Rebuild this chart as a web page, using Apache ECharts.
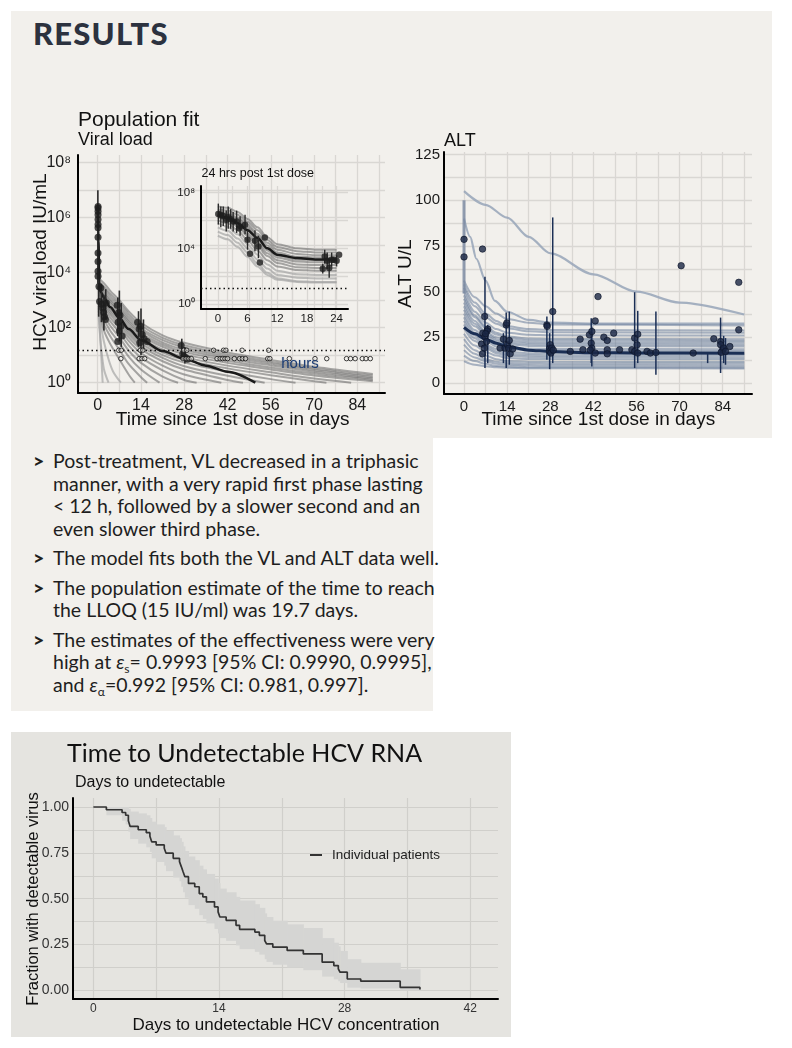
<!DOCTYPE html>
<html><head><meta charset="utf-8">
<script src="https://cdn.jsdelivr.net/npm/echarts@6/dist/echarts.min.js"></script>
<style>
body{margin:0;background:#fff;width:792px;height:1048px;position:relative;overflow:hidden}
.panel{position:absolute;background:#f2f0ec}
#results{position:absolute;left:33px;top:14px;font-family:Lato;font-weight:900;font-size:31px;letter-spacing:1.2px;color:#2c323f;white-space:nowrap}
#bullets{position:absolute;left:33px;top:450px;font-family:Lato;font-size:19.5px;color:#1e1e1e;line-height:22.5px}
.b{position:relative;padding-left:20px;margin-bottom:7px;white-space:nowrap}
.b:before{content:'>';position:absolute;left:0;top:0;font-weight:900}
sub{font-size:0.62em;line-height:0;vertical-align:-0.3em}
#chart{position:absolute;left:0;top:0;width:792px;height:1048px}
</style></head>
<body>
<div class="panel" style="left:11px;top:11px;width:761px;height:427px"></div>
<div class="panel" style="left:11px;top:438px;width:422px;height:273px"></div>
<div class="panel" style="left:11px;top:732px;width:500px;height:305px;background:#e5e4e0"></div>
<div id="results">RESULTS</div>
<div id="bullets">
<div class="b">Post-treatment, VL decreased in a triphasic<br>manner, with a very rapid first phase lasting<br>&lt; 12 h, followed by a slower second and an<br>even slower third phase.</div>
<div class="b">The model fits both the VL and ALT data well.</div>
<div class="b">The population estimate of the time to reach<br>the LLOQ (15 IU/ml) was 19.7 days.</div>
<div class="b">The estimates of the effectiveness were very<br>high at <i>ε</i><sub>s</sub>= 0.9993 [95% CI: 0.9990, 0.9995],<br>and <i>ε</i><sub>α</sub>=0.992 [95% CI: 0.981, 0.997].</div>
</div>
<div id="chart"></div>
<script>
// ---------- Viral load (log10 IU/mL) vs days ----------
const vlDayGrid = [0,7,14,21,28,35,42,49,56,63,70,77,84,91];
const vlDayLabels = [0,14,28,42,56,70,84];
const vlPowGrid = [0,1,2,3,4,5,6,7,8];
const vlPowLabels = [0,2,4,6,8];
const vlLLOQ = 1.18;        // log10(15 IU/mL)
const vlBelowLevel = 0.875; // log10(7.5 IU/mL)
const vlCurves = [
 [[0.3,3.8],[2,3.62],[4,3.35],[7,3.0],[10,2.6],[14,2.18],[21,1.72],[28,1.45],[42,1.1],[56,0.83],[70,0.58],[89,0.32]],
 [[0.3,3.7],[2,3.5],[4,3.24],[7,2.9],[10,2.5],[14,2.08],[21,1.63],[28,1.36],[42,1.02],[56,0.76],[70,0.52],[89,0.26]],
 [[0.3,3.65],[2,3.42],[4,3.15],[7,2.8],[10,2.4],[14,1.98],[21,1.55],[28,1.28],[42,0.95],[56,0.7],[70,0.46],[89,0.2]],
 [[0.3,3.55],[2,3.33],[4,3.05],[7,2.7],[10,2.3],[14,1.9],[21,1.46],[28,1.2],[42,0.88],[56,0.63],[70,0.4],[89,0.15]],
 [[0.3,3.5],[2,3.25],[4,2.97],[7,2.62],[10,2.22],[14,1.8],[21,1.38],[28,1.12],[42,0.8],[56,0.55],[70,0.33],[89,0.1]],
 [[0.3,3.45],[2,3.18],[4,2.9],[7,2.55],[10,2.14],[14,1.72],[21,1.3],[28,1.03],[42,0.72],[56,0.48],[70,0.26],[89,0.05]],
 [[0.3,3.4],[2,3.1],[4,2.8],[7,2.45],[10,2.04],[14,1.62],[21,1.2],[28,0.93],[42,0.62],[56,0.38],[70,0.15],[82,0]],
 [[0.3,3.35],[2,3.03],[4,2.72],[7,2.38],[10,1.95],[14,1.52],[21,1.1],[28,0.83],[42,0.52],[56,0.27],[70,0.05],[74,0]],
 [[0.3,3.3],[2,2.97],[4,2.65],[7,2.3],[10,1.86],[14,1.43],[21,1.0],[28,0.73],[42,0.4],[56,0.13],[64,0]],
 [[0.3,3.25],[2,2.9],[4,2.57],[7,2.2],[10,1.76],[14,1.33],[21,0.9],[28,0.6],[42,0.25],[54,0]],
 [[0.3,3.2],[2,2.82],[4,2.48],[7,2.1],[10,1.65],[14,1.22],[21,0.78],[28,0.48],[42,0.1],[47,0]],
 [[0.3,3.1],[2,2.72],[4,2.37],[7,1.98],[10,1.52],[14,1.08],[21,0.62],[28,0.3],[40,0]],
 [[0.3,3.0],[2,2.6],[4,2.24],[7,1.83],[10,1.36],[14,0.92],[21,0.45],[28,0.1],[32,0]],
 [[0.3,2.9],[2,2.45],[4,2.08],[7,1.65],[10,1.17],[14,0.72],[21,0.22],[26,0]],
 [[0.3,2.8],[2,2.3],[4,1.9],[7,1.45],[10,0.95],[14,0.48],[20,0]],
 [[0.3,2.7],[2,2.12],[4,1.7],[7,1.2],[10,0.68],[14,0.2],[16,0]],
 [[0.3,2.6],[2,1.9],[4,1.42],[7,0.85],[10,0.3],[12,0]]
];
const vlLightCurves = [
 [[0.3,2.5],[1,2.1],[2,1.5],[3.5,0.85],[5,0.4],[7.5,0]],
 [[0.3,2.4],[0.7,1.8],[1,1.4],[2,0.5],[3.5,0]],
 [[0.3,2.8],[0.6,2.1],[1,1.3],[1.6,0]]
];
const vlMean = [[0,6.4],[0.25,5.2],[0.5,3.5],[1,3.3],[2,3.1],[4,2.75],[7,2.35],[10,1.95],[14,1.55],[21,1.15],[28,0.87],[35,0.62],[42,0.4],[51,0.0]];
const vlPoints = [
 [0.1,6.41],[0.1,6.35],[0.1,6.23],[0.1,6.11],[0.1,5.93],[0.1,5.75],[0.1,5.63],[0.1,5.29],[0.1,4.72],[0.1,4.41],[0.1,4.05],[0.1,3.87],
 [0.4,3.5],[0.6,2.95],[1.0,3.44],[1.3,2.85],[1.6,2.72],[1.9,2.55],[2.2,2.4],[2.5,2.3],[2.8,2.9],
 [6.3,2.82],[6.8,2.55],[7.2,2.45],[6.6,2.2],[7.5,2.05],[7.0,1.88],[7.9,1.7],[6.5,1.5],
 [12.9,2.2],[13.8,2.05],[13.4,1.95],[14.4,1.75],[15.0,1.6],[13.6,1.45],[16.0,1.5],
 [27.0,1.35],[27.5,1.05],[28.0,0.95],[28.6,0.9],[29.1,0.85]
];
const vlErr = [
 [0.05,3.6,7.0],[0.3,2.4,3.9],[1.2,2.2,3.6],[2.0,1.9,3.2],[2.6,2.3,3.4],
 [6.5,1.7,3.1],[7.0,1.5,3.35],[7.6,1.3,2.9],
 [13.2,1.3,2.6],[14.0,1.0,2.7],[14.8,1.2,2.3],
 [27.2,0.9,1.6],[28.2,0.7,1.3]
];
const vlAtLLOQDays = [6.8,7.6,13.8,14.6,27.8,28.8,37.5,40.7,41.5,46.7,55.3];
const vlBelowDays = [7.5,13.4,14.3,15.2,27.6,28.6,29.5,30.3,34.8,38.6,39.6,40.4,41.2,42.0,44.2,45.9,46.8,47.8,55.0,55.7,62.0,70.3,74.1,80.5,81.8,83.3,85.6,86.8,88.2];

// ---------- Inset: first 24 hours ----------
const inHourGrid = [0,3,6,9,12,15,18,21,24];
const inHourLabels = [0,6,12,18,24];
const inPowGrid = [0,2,4,6,8];
const inPowLabels = [0,4,8];
const inHours = [0,2,4,6,8,10,12,16,20,24];
const inCurves = [
 [7.0,6.9,6.6,6.1,5.5,4.8,4.3,4.0,3.9,3.9],
 [6.8,6.7,6.4,5.9,5.3,4.6,4.1,3.8,3.7,3.7],
 [6.7,6.55,6.2,5.7,5.05,4.4,3.9,3.6,3.5,3.5],
 [6.6,6.45,6.1,5.55,4.9,4.2,3.7,3.4,3.35,3.35],
 [6.5,6.35,5.95,5.4,4.7,4.0,3.5,3.2,3.15,3.15],
 [6.4,6.25,5.85,5.25,4.55,3.85,3.35,3.05,3.0,3.0],
 [6.3,6.1,5.7,5.05,4.35,3.65,3.15,2.85,2.8,2.8],
 [6.2,6.0,5.55,4.9,4.15,3.45,2.95,2.65,2.6,2.6],
 [6.0,5.8,5.3,4.6,3.85,3.15,2.7,2.45,2.4,2.4]
];
const inLightCurves = [
 [5.8,5.55,5.0,4.3,3.55,2.85,2.4,2.15,2.1,2.1],
 [5.5,5.25,4.7,4.0,3.2,2.55,2.1,1.9,1.85,1.85],
 [5.2,4.95,4.4,3.7,2.9,2.25,1.85,1.65,1.6,1.6],
 [4.9,4.65,4.1,3.4,2.7,2.1,1.75,1.6,1.55,1.55]
];
const inMean = [6.4,6.2,5.8,5.3,4.75,4.0,3.55,3.3,3.2,3.2];
const inPoints = [[0.1,6.46],[0.6,6.39],[1.1,6.32],[1.7,6.04],[2.1,6.23],[2.6,6.08],[3.1,5.92],[3.8,5.92],[4.3,5.44],[4.5,5.56],[5.5,5.68],[6.0,4.61],[6.5,3.61],[7.5,4.54],[8.2,4.13],[8.5,2.99],[9.5,4.77],[21.2,2.54],[21.6,3.42],[22.1,3.11],[22.5,2.59],[23.0,3.18],[23.4,3.18],[24.0,3.11],[24.5,3.54]];
const inErr = [[0.1,5.7,7.2],[0.6,5.5,7.0],[1.1,5.6,7.0],[1.7,5.2,6.7],[2.1,5.4,7.0],[2.6,5.4,6.8],[3.1,5.2,6.6],[3.8,5.1,6.7],[4.5,4.9,6.3],[5.5,5.0,6.4],[6.0,3.9,5.3],[7.5,3.8,5.3],[8.2,3.3,4.9],[21.2,2.2,2.9],[21.6,2.9,3.9],[22.1,2.5,3.7],[22.5,1.9,3.2],[23.0,2.7,3.7],[24.0,2.7,3.5]];

// ---------- ALT (U/L) vs days ----------
const altDayGrid = [0,7,14,21,28,35,42,49,56,63,70,77,84,91];
const altDayLabels = [0,14,28,42,56,70,84];
const altValGrid = [0,12.5,25,37.5,50,62.5,75,87.5,100,112.5,125];
const altValLabels = [0,25,50,75,100,125];
const altOutlierCurves = [
 [[0,105],[7,97.5],[14,90.5],[21,80],[28,71],[42,59.5],[56,50],[70,44],[91,37.5]],
 [[0,90],[2,80],[4,68],[7,56],[10,45],[14,39],[21,34.5],[28,33],[42,32.5],[91,32.5]]
];
const altCurveDays = [0,3.5,7,10.5,14,21,28,91];
const altCurves = [
 [56,47,42,38,35,33,32,31.5],
 [54,44,38,34,31,29.5,29,28.8],
 [52,42,36,32.5,30,28.3,27.8,27.5],
 [50,39,33,29.5,27.5,26.4,26.1,26],
 [48,37,31,27.5,25.5,24.4,24.1,24],
 [46,36,30,26.5,24.5,23.4,23.1,23],
 [44,34,28,25,23.3,22.3,22.1,22],
 [42,32.5,27,24,22.2,21.3,21.1,21],
 [40,31,26,23,21.2,20.3,20.1,20],
 [38,29,24,21.2,19.6,18.8,18.6,18.5],
 [36,27.5,23,20,18.6,17.8,17.6,17.5],
 [34,26,21,18.5,17.1,16.3,16.1,16],
 [32,24.5,20,17.3,16,15.3,15.1,15],
 [30,23,19,16.3,15,14.3,14.1,14],
 [27,20.5,17,15,13.7,13.2,13.1,13],
 [24,18,15,13,12,11.7,11.6,11.5],
 [21,16,13,11.6,11,10.7,10.6,10.5],
 [18,14,12,10.5,10,9.7,9.6,9.5],
 [15,12,10.5,9.3,9,8.7,8.6,8.5],
 [12,10,9.2,8.6,8.3,8.1,8.05,8]
];
const altMean = [[0,30.5],[3.5,27],[7,24],[10.5,21.8],[14,20],[21,18],[28,17.2],[42,16.6],[56,16.4],[91,16.3]];
const altPoints = [
 [0,78.6],[0,69],[6,73.3],[6.7,36.4],[6.1,27.3],[6.8,25.5],[7.7,29.5],[7.5,28.5],[5.7,21.3],[6.6,19.1],[6,16],[7.3,22.7],[7,27],
 [11.7,19.1],[12.8,24],[13.7,31.8],[13.9,32.8],[13.3,19.1],[14.1,21],[14.7,23.3],[14.5,19],[15,16],[15.8,18.6],
 [26.9,31.8],[27,31],[27.8,19.1],[27.8,17.3],[28,21],[28.8,39.1],[28.5,19.1],[28.2,16.4],[29,18],
 [34.5,17.3],[37.7,24],[38.6,18.2],[40.7,26.4],[41.3,21.8],[41.5,28.2],[41.5,19.1],[41,18],[42.6,34],[43.5,47.3],[42.6,16.4],[45.4,25.1],[46.5,23.3],[46.5,18.2],[46.5,16],[48.6,27.3],[50.5,18.2],
 [54.5,18.2],[55.4,24.6],[56.2,20.9],[56.4,26.7],[55.4,17.3],[56.4,16.4],[59.4,17.3],[60.5,16.4],[62.3,16.7],[70.5,64.2],[74.4,16.4],
 [81.1,24.2],[83.3,22.7],[83.3,21],[84,18.2],[83.5,16.8],[84.3,19.1],[84.9,17.3],[86.3,20],[89.2,55.1],[89.2,29.1]
];
const altErrDay0 = [[0,49,100]];
const altErr = [[6.8,8.2,58.2],[7.7,10.9,31.8],[12.8,10.9,27.3],[13.7,8.2,38.6],[14.7,10,39.1],[26.9,12.7,36.4],[27.8,7.6,27.3],[28.8,10.9,90.6],[41.3,10.9,35.5],[41.5,9.1,30.9],[55.4,8.2,49.7],[56.4,10.9,39.5],[62.3,4.5,39.1],[79.1,10.9,16],[83.3,5.5,35.8],[84.3,10.9,25.8],[84.9,10,24.6]];

// ---------- Kaplan-Meier: time to undetectable ----------
const kmDayGrid = [0,7,14,21,28,35,42];
const kmDayLabels = [0,14,28,42];
const kmFracGrid = [0,0.125,0.25,0.375,0.5,0.625,0.75,0.875,1];
const kmFracLabels = [0,0.25,0.5,0.75,1];
const kmDays  = [0,1.45,3.2,3.6,3.9,4.1,5.0,5.9,6.3,6.5,7.0,7.9,8.1,8.9,9.6,9.8,10.0,10.2,10.6,11.3,11.8,12.2,12.6,13.5,13.9,14.1,14.8,15.9,16.3,18.0,18.5,19.1,19.3,20.0,21.6,23.4,25.5,26.8,27.3,27.5,28.3,29.8,34.2,36.4];
const kmSurv  = [1.0,0.985,0.97,0.955,0.925,0.894,0.876,0.86,0.84,0.81,0.793,0.775,0.748,0.72,0.702,0.675,0.647,0.62,0.583,0.565,0.528,0.51,0.483,0.455,0.428,0.40,0.382,0.355,0.333,0.318,0.30,0.272,0.254,0.236,0.218,0.199,0.154,0.135,0.117,0.099,0.062,0.05,0.016,0.005];
const kmUpper = [1.0,1.0,1.0,1.0,0.99,0.975,0.965,0.955,0.94,0.92,0.905,0.89,0.87,0.845,0.83,0.81,0.785,0.76,0.73,0.71,0.68,0.66,0.635,0.61,0.585,0.555,0.535,0.51,0.49,0.47,0.45,0.42,0.4,0.38,0.36,0.34,0.285,0.26,0.24,0.215,0.17,0.15,0.115,0.11];
const kmLower = [1.0,0.955,0.925,0.905,0.865,0.825,0.8,0.78,0.755,0.72,0.7,0.68,0.65,0.615,0.595,0.565,0.535,0.505,0.465,0.445,0.41,0.39,0.365,0.335,0.31,0.285,0.27,0.245,0.225,0.21,0.195,0.17,0.155,0.14,0.125,0.11,0.075,0.06,0.05,0.04,0.015,0.01,0.0,0.0];

// ================= build =================
const FONT = 'Liberation Sans';
const GRID_C = '#d9d7d3';
const sup = ['⁰','¹','²','³','⁴','⁵','⁶','⁷','⁸','⁹'];
const powLabel = v => '10' + sup[Math.round(v)];

function axis(gridIndex, min, max, gridVals, labelVals, o) {
  o = o || {};
  return {
    type: 'value', gridIndex, min, max,
    axisLine: {show: true, onZero: false, lineStyle: {color: '#000', width: o.axisW || 2}},
    axisTick: {show: false, customValues: gridVals},
    axisLabel: {customValues: labelVals, fontFamily: FONT, fontSize: o.fs || 16, color: o.color || '#1a1a1a',
      margin: o.margin == null ? 6 : o.margin, formatter: o.fmt, hideOverlap: false},
    splitLine: {show: true, lineStyle: {color: o.gridColor || GRID_C, width: o.gridW || 1.3}}
  };
}

function errSeries(xi, yi, data, color, width, z) {
  return {
    type: 'custom', xAxisIndex: xi, yAxisIndex: yi, data, silent: true, z: z || 5,
    encode: {x: 0, y: [1, 2]},
    renderItem(params, api) {
      const a = api.coord([api.value(0), api.value(1)]);
      const b = api.coord([api.value(0), api.value(2)]);
      return {type: 'line', shape: {x1: a[0], y1: a[1], x2: b[0], y2: b[1]}, style: {stroke: color, lineWidth: width}};
    }
  };
}
function lineS(xi, yi, data, color, width, z, mono) {
  const s = {type: 'line', xAxisIndex: xi, yAxisIndex: yi, data, showSymbol: false, symbol: 'none',
    smooth: 0.3, silent: true, z: z || 2, lineStyle: {color, width}};
  if (mono) s.smoothMonotone = 'x';
  return s;
}

const series = [];
// Viral load main
vlCurves.forEach(c => series.push(lineS(0, 0, c, 'rgba(100,100,100,0.55)', 2, 2)));
vlLightCurves.forEach(c => series.push(lineS(0, 0, c, 'rgba(165,165,165,0.7)', 2, 2)));
series.push(lineS(0, 0, vlMean, '#1a1a1a', 2.5, 4, true));
series.push(errSeries(0, 0, vlErr, '#2a2a2a', 1.6, 5));
series.push({type: 'scatter', xAxisIndex: 0, yAxisIndex: 0, data: vlPoints, symbolSize: 7, silent: true, z: 6,
  itemStyle: {color: '#1e1e1e'}});
series.push({type: 'scatter', xAxisIndex: 0, yAxisIndex: 0, silent: true, z: 6, symbolSize: 4.5,
  data: vlAtLLOQDays.map(d => [d, vlLLOQ]).concat(vlBelowDays.map(d => [d, vlBelowLevel])),
  itemStyle: {color: 'rgba(242,240,236,0.6)', borderColor: '#111', borderWidth: 1},
  markLine: {silent: true, symbol: 'none', label: {show: false}, data: [{yAxis: vlLLOQ}],
    lineStyle: {color: '#111', type: [1.5, 3], width: 1.3}, animation: false}});
// Inset
inCurves.forEach(c => series.push(lineS(1, 1, inHours.map((h, i) => [h, c[i]]), 'rgba(100,100,100,0.55)', 2, 8, true)));
inLightCurves.forEach(c => series.push(lineS(1, 1, inHours.map((h, i) => [h, c[i]]), 'rgba(165,165,165,0.7)', 2, 8, true)));
series.push(lineS(1, 1, inHours.map((h, i) => [h, inMean[i]]), '#1a1a1a', 2.5, 9, true));
series.push(errSeries(1, 1, inErr, '#2a2a2a', 1.4, 10));
series.push({type: 'scatter', xAxisIndex: 1, yAxisIndex: 1, data: inPoints, symbolSize: 6.5, silent: true, z: 11,
  itemStyle: {color: '#1e1e1e'},
  markLine: {silent: true, symbol: 'none', label: {show: false}, data: [{yAxis: vlLLOQ}],
    lineStyle: {color: '#111', type: [1.5, 3], width: 1.3}, animation: false}});
// ALT
altOutlierCurves.forEach(c => series.push(lineS(2, 2, c, 'rgba(150,165,185,0.85)', 2.2, 2, true)));
altCurves.forEach(c => series.push(lineS(2, 2, altCurveDays.map((d, i) => [d, c[i]]), 'rgba(90,112,145,0.5)', 2, 2, true)));
series.push(lineS(2, 2, altMean, '#1b2f55', 3, 4, true));
series.push(errSeries(2, 2, altErrDay0, 'rgba(120,135,160,0.8)', 3, 5));
series.push(errSeries(2, 2, altErr, '#1b2f55', 1.5, 5));
series.push({type: 'scatter', xAxisIndex: 2, yAxisIndex: 2, data: altPoints, symbolSize: 6.5, silent: true, z: 6,
  itemStyle: {color: '#1a2745', borderColor: '#0c1428', borderWidth: 0.8}});
// KM confidence band: one rectangle per step interval
const kmBand = kmDays.slice(0, -1).map((d, i) => [d, kmDays[i + 1], kmLower[i], kmUpper[i]]);
series.push({type: 'custom', xAxisIndex: 3, yAxisIndex: 3, data: kmBand, silent: true, z: 2,
  encode: {x: [0, 1], y: [2, 3]},
  renderItem(params, api) {
    const a = api.coord([api.value(0), api.value(3)]);
    const b = api.coord([api.value(1), api.value(2)]);
    return {type: 'rect', shape: {x: a[0], y: a[1], width: b[0] - a[0] + 0.6, height: Math.max(b[1] - a[1], 0)},
      style: {fill: '#d5d5d3'}};
  }});
series.push({name: 'Individual patients', type: 'line', xAxisIndex: 3, yAxisIndex: 3, step: 'end', symbol: 'none', silent: true,
  data: kmDays.map((d, i) => [d, kmSurv[i]]), lineStyle: {color: '#333', width: 1.7}, itemStyle: {color: '#333'}, z: 4});

function T(text, x, y, size, extra) {
  const st = Object.assign({text, fontSize: size, fontFamily: FONT, fill: '#111',
    align: 'left', textAlign: 'left', verticalAlign: 'middle', textVerticalAlign: 'middle'}, extra && extra.style);
  const el = {type: 'text', x, y, silent: true, z: 100, style: st};
  if (extra && extra.rotation) el.rotation = extra.rotation;
  return el;
}
const C = {align: 'center', textAlign: 'center'};
const R90 = Math.PI / 2;

const option = {
  animation: false,
  grid: [
    {left: 78, top: 155, width: 307, height: 238},
    {left: 201, top: 186, width: 147, height: 123},
    {left: 444, top: 152, width: 308, height: 242},
    {left: 73, top: 798, width: 425, height: 201}
  ],
  xAxis: [
    axis(0, -6.38, 92.95, vlDayGrid, vlDayLabels, {fs: 16, margin: 5}),
    axis(1, -3.4, 26.3, inHourGrid, inHourLabels, {fs: 11.5, margin: 4}),
    axis(2, -6.5, 93.5, altDayGrid, altDayLabels, {fs: 15, margin: 5}),
    axis(3, -2.27, 45.1, kmDayGrid, kmDayLabels, {fs: 12, margin: 4, color: '#333', gridColor: '#d0cfcb', gridW: 1.2})
  ],
  yAxis: [
    axis(0, -0.375, 8.28, vlPowGrid, vlPowLabels, {fs: 16, margin: 7, fmt: powLabel}),
    axis(1, -0.34, 8.46, inPowGrid, inPowLabels, {fs: 11.5, margin: 6, fmt: powLabel}),
    axis(2, -6.0, 126.4, altValGrid, altValLabels, {fs: 15, margin: 4}),
    axis(3, -0.047, 1.049, kmFracGrid, kmFracLabels, {fs: 14, margin: 4, color: '#333', gridColor: '#d0cfcb', gridW: 1.2,
      fmt: v => v.toFixed(2)})
  ],
  legend: {data: ['Individual patients'], left: 305, top: 843, icon: 'rect', itemWidth: 12, itemHeight: 2,
    textStyle: {fontFamily: FONT, fontSize: 13.5, color: '#222', padding: [0, 0, 0, 5]}},
  series,
  graphic: [
    T('Population fit', 78, 120.5, 21),
    T('Viral load', 78, 140.5, 18),
    T('ALT', 444, 141.3, 18),
    T('24 hrs post 1st dose', 201.5, 174, 12.5),
    T('hours', 300, 364, 15, {style: Object.assign({fill: '#1c3d75', textShadowColor: 'rgba(120,120,120,0.6)', textShadowBlur: 2}, C)}),
    T('HCV viral load IU/mL', 41, 262, 19, {rotation: R90, style: C}),
    T('Time since 1st dose in days', 232.7, 420, 19, {style: C}),
    T('ALT U/L', 405.5, 273.5, 19, {rotation: R90, style: C}),
    T('Time since 1st dose in days', 598.3, 420, 19, {style: C}),
    T('Time to Undetectable HCV RNA', 67, 754, 25, {style: {fontFamily: 'Lato', fill: '#111'}}),
    T('Days to undetectable', 75, 783, 16),
    T('Fraction with detectable virus', 33, 899, 16.5, {rotation: R90, style: C}),
    T('Days to undetectable HCV concentration', 286, 1025, 17, {style: C})
  ]
};
const chart = echarts.init(document.getElementById('chart'), null, {renderer: 'canvas'});
chart.setOption(option);
</script>
</body></html>
